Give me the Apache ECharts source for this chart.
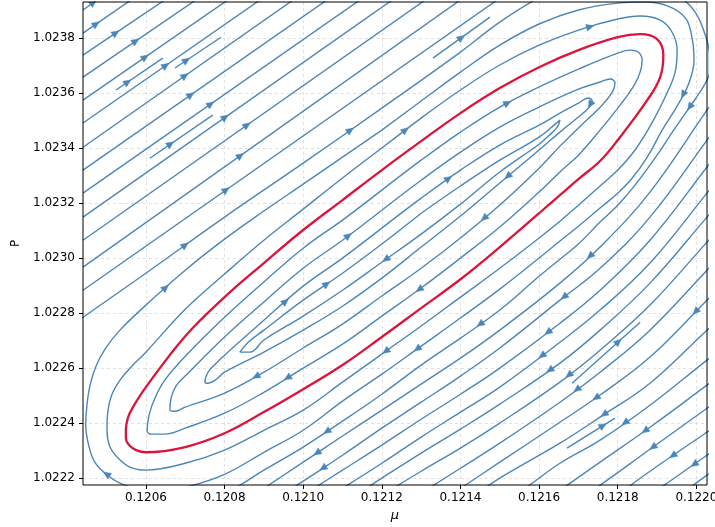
<!DOCTYPE html>
<html><head><meta charset="utf-8">
<script src="https://cdn.jsdelivr.net/npm/echarts@6/dist/echarts.min.js"></script>
<style>html,body{margin:0;padding:0;background:#fff}#c{width:715px;height:527px}</style>
</head><body><div id="c"></div>
<script>
// ---- axis ranges and ticks ----
const xRange = [0.12044, 0.122027];
const yRange = [1.022174, 1.02393];
const xTicks = [0.1206, 0.1208, 0.1210, 0.1212, 0.1214, 0.1216, 0.1218, 0.1220];
const yTicks = [1.0222, 1.0224, 1.0226, 1.0228, 1.0230, 1.0232, 1.0234, 1.0236, 1.0238];

// ---- limit cycle (red closed orbit) ----
const limitCycle = [[0.120549,1.022373],[0.120554,1.022417],[0.120567,1.022457],[0.1206,1.022530],[0.1207,1.022715],[0.1208,1.022857],[0.1209,1.022981],[0.1210,1.023101],[0.1211,1.023210],[0.1212,1.023319],[0.1213,1.023424],[0.1214,1.023526],[0.1215,1.023617],[0.1216,1.023693],[0.1217,1.023755],[0.1218,1.023802],[0.121857,1.023813],[0.1219,1.023795],[0.121916,1.023737],[0.121908,1.023657],[0.121875,1.023573],[0.1218,1.023428],[0.121755,1.023352],[0.1217,1.023286],[0.121653,1.023228],[0.1216,1.023162],[0.1215,1.023039],[0.1214,1.022922],[0.1213,1.022817],[0.1212,1.022712],[0.1211,1.022610],[0.1210,1.022522],[0.1209,1.022439],[0.1208,1.022362],[0.1207,1.022312],[0.1206,1.022293],[0.120575,1.022301],[0.120557,1.022319],[0.120549,1.022344],[0.120549,1.022373]];

// ---- streamlines outside the cycle ----
const outer1 = [[0.120501,1.022373],[0.120503,1.022439],[0.120513,1.022501],[0.120534,1.022555],[0.120564,1.022606],[0.1206,1.022657],[0.1207,1.022813],[0.1208,1.022941],[0.1209,1.023064],[0.1210,1.023177],[0.1211,1.023290],[0.1212,1.023399],[0.1213,1.023508],[0.1214,1.023610],[0.1215,1.023701],[0.1216,1.023773],[0.1217,1.023828],[0.1218,1.023868],[0.121857,1.023879],[0.121908,1.023864],[0.121938,1.023821],[0.121951,1.023755],[0.121946,1.023675],[0.121923,1.023592],[0.121888,1.023493],[0.121844,1.023392],[0.1218,1.023319],[0.121755,1.023261],[0.1217,1.023191],[0.121653,1.023133],[0.1216,1.023072],[0.1215,1.022962],[0.1214,1.022857],[0.1213,1.022752],[0.1212,1.022650],[0.1211,1.022548],[0.1210,1.022446],[0.1209,1.022373],[0.1208,1.022301],[0.1207,1.022253],[0.1206,1.022228],[0.120559,1.022239],[0.120529,1.022272],[0.120508,1.022315],[0.120501,1.022373]];
const outer2 = [[0.120447,1.022392],[0.12045,1.022464],[0.120458,1.022537],[0.120473,1.022606],[0.120496,1.022668],[0.120534,1.022737],[0.1206,1.022828],[0.1207,1.022955],[0.1208,1.023068],[0.1209,1.023170],[0.1210,1.023268],[0.1211,1.023366],[0.1212,1.023464],[0.1213,1.023570],[0.1214,1.023675],[0.1215,1.023773],[0.1216,1.023850],[0.1217,1.023901],[0.1218,1.023926],[0.12187,1.023930],[0.121928,1.023915],[0.121972,1.023872],[0.121989,1.023799],[0.121994,1.023719],[0.121979,1.023628],[0.121954,1.023559],[0.121913,1.023464],[0.121875,1.023366],[0.121837,1.023290],[0.1218,1.023235],[0.121755,1.023181],[0.1217,1.023115],[0.121653,1.023061],[0.1216,1.022999],[0.1215,1.022886],[0.1214,1.022781],[0.1213,1.022679],[0.1212,1.022577],[0.1211,1.022479],[0.1210,1.022373],[0.1209,1.022293],[0.1208,1.022213],[0.1207,1.022166],[0.120636,1.022155],[0.120585,1.022159],[0.120534,1.022181],[0.120496,1.022217],[0.12047,1.022257],[0.120455,1.022315],[0.120447,1.022392]];
const outer3 = [[0.120407,1.022752],[0.12044,1.022784],[0.1206,1.022944],[0.1208,1.023148],[0.1210,1.023344],[0.1212,1.023544],[0.1214,1.023748],[0.1215,1.023857],[0.121603,1.023948],[0.121704,1.024010],[0.121832,1.024039],[0.121908,1.024002],[0.121964,1.023944],[0.121997,1.023893],[0.12202,1.023821],[0.122033,1.023737],[0.122033,1.023675],[0.12202,1.023628],[0.121999,1.023581],[0.121946,1.023472],[0.1219,1.023373],[0.121844,1.023264],[0.1218,1.023191],[0.121755,1.023130],[0.1217,1.023050],[0.121653,1.022995],[0.1216,1.022933],[0.1215,1.022810],[0.1214,1.022708],[0.1213,1.022610],[0.1212,1.022504],[0.1211,1.022406],[0.1210,1.022312],[0.1209,1.022228],[0.120839,1.022173],[0.120788,1.022130]];
const outerU4 = [[0.12044,1.022882],[0.121511,1.023955]];
const outerU5 = [[0.12044,1.022966],[0.121417,1.023955]];
const outerU6 = [[0.12044,1.023064],[0.121328,1.023955]];
const outerU7 = [[0.12044,1.023148],[0.121244,1.023955]];
const outerU8 = [[0.12044,1.023235],[0.121162,1.023955]];
const outerU9 = [[0.12044,1.023319],[0.121078,1.023955]];
const outerU10 = [[0.12044,1.023402],[0.120992,1.023955]];
const outerU11 = [[0.12044,1.023490],[0.120908,1.023955]];
const outerU12 = [[0.12044,1.023573],[0.120826,1.023955]];
const outerU13 = [[0.12044,1.023657],[0.120745,1.023955]];
const outerU14 = [[0.12044,1.023737],[0.120666,1.023955]];
const outerU15 = [[0.12044,1.023817],[0.12058,1.023955]];
const outerU16 = [[0.12044,1.023901],[0.120493,1.023955]];
const outerL4 = [[0.122048,1.023577],[0.122027,1.023537],[0.121882,1.023239],[0.121755,1.023039],[0.121653,1.022908],[0.1215,1.022737],[0.1214,1.022635],[0.1213,1.022541],[0.1212,1.022446],[0.1211,1.022352],[0.1210,1.022257],[0.1209,1.022162],[0.120872,1.022137]];
const outerL5 = [[0.122048,1.023472],[0.122027,1.023428],[0.121882,1.023148],[0.121755,1.022962],[0.121653,1.022846],[0.1215,1.022672],[0.1214,1.022570],[0.1213,1.022475],[0.1212,1.022381],[0.1211,1.022282],[0.1210,1.022188],[0.120946,1.022137]];
const outerL6 = [[0.122048,1.023370],[0.122027,1.023330],[0.121882,1.023064],[0.121755,1.022882],[0.121653,1.022762],[0.1215,1.022599],[0.1214,1.022504],[0.1213,1.022413],[0.1212,1.022319],[0.1211,1.022228],[0.1210,1.022137]];
const outerL7 = [[0.122048,1.023272],[0.122027,1.023235],[0.121882,1.022981],[0.121755,1.022810],[0.121653,1.022693],[0.1215,1.022530],[0.1214,1.022439],[0.1213,1.022348],[0.1212,1.022253],[0.1211,1.022162],[0.121071,1.022137]];
const outerL8 = [[0.122048,1.023181],[0.122027,1.023148],[0.121882,1.022908],[0.121755,1.022737],[0.121653,1.022617],[0.1215,1.022468],[0.1214,1.022377],[0.1213,1.022290],[0.1212,1.022199],[0.121134,1.022137]];
const outerL9 = [[0.122048,1.023090],[0.122027,1.023057],[0.121882,1.022828],[0.121755,1.022664],[0.121653,1.022548],[0.1215,1.022399],[0.1214,1.022308],[0.1213,1.022224],[0.1212,1.022137]];
const outerL10 = [[0.122048,1.022988],[0.122027,1.022955],[0.121882,1.022737],[0.121755,1.022584],[0.121653,1.022475],[0.1215,1.022326],[0.1214,1.022235],[0.121292,1.022137]];
const outerL11 = [[0.122048,1.022875],[0.122027,1.022846],[0.121882,1.022639],[0.121755,1.022501],[0.121653,1.022402],[0.1215,1.022257],[0.121412,1.022173],[0.121374,1.022137]];
const outerL12 = [[0.122048,1.022762],[0.122027,1.022737],[0.121882,1.022544],[0.121755,1.022421],[0.121653,1.022326],[0.1215,1.022199],[0.121437,1.022137]];
const outerL13 = [[0.122048,1.022650],[0.122027,1.022628],[0.121882,1.022464],[0.121755,1.022337],[0.121653,1.022253],[0.121575,1.022173],[0.121536,1.022137]];
const outerL14 = [[0.122048,1.022559],[0.122027,1.022537],[0.121882,1.022384],[0.121755,1.022257],[0.121664,1.022166],[0.121633,1.022137]];
const outerL15 = [[0.122048,1.022475],[0.122027,1.022453],[0.121882,1.022304],[0.121748,1.022166],[0.121717,1.022137]];
const outerL16 = [[0.122048,1.022384],[0.122027,1.022366],[0.121882,1.022224],[0.121806,1.022144]];
const outerL17 = [[0.122048,1.022301],[0.122027,1.022282],[0.121918,1.022173],[0.121882,1.022137]];
const outerL18 = [[0.122048,1.022228],[0.122027,1.022210],[0.121992,1.022173],[0.121959,1.022137]];

// ---- streamlines inside the cycle ----
const inner1 = [[0.120603,1.022370],[0.120608,1.022428],[0.120623,1.022490],[0.120648,1.022555],[0.1207,1.022642],[0.1208,1.022784],[0.1209,1.022912],[0.1210,1.023035],[0.1211,1.023137],[0.1212,1.023246],[0.1213,1.023355],[0.1214,1.023457],[0.1215,1.023548],[0.1216,1.023621],[0.1217,1.023686],[0.1218,1.023744],[0.121832,1.023755],[0.121852,1.023748],[0.121862,1.023719],[0.121857,1.023675],[0.121842,1.023628],[0.121806,1.023555],[0.121755,1.023464],[0.1217,1.023373],[0.121653,1.023312],[0.1216,1.023239],[0.1215,1.023112],[0.1214,1.022999],[0.1213,1.022890],[0.1212,1.022788],[0.1211,1.022686],[0.1210,1.022599],[0.1209,1.022511],[0.1208,1.022435],[0.1207,1.022381],[0.120648,1.022359],[0.120615,1.022359],[0.120603,1.022370]];
const inner2 = [[0.120661,1.022446],[0.120664,1.022490],[0.120676,1.022533],[0.1207,1.022570],[0.1208,1.022712],[0.1209,1.022839],[0.1210,1.022962],[0.1211,1.023064],[0.1212,1.023173],[0.1213,1.023282],[0.1214,1.023384],[0.1215,1.023475],[0.1216,1.023548],[0.1217,1.023613],[0.121755,1.023639],[0.121781,1.023650],[0.121793,1.023635],[0.121786,1.023602],[0.12176,1.023555],[0.1217,1.023472],[0.121653,1.023406],[0.1216,1.023326],[0.1215,1.023192],[0.1214,1.023072],[0.1213,1.022962],[0.1212,1.022861],[0.1211,1.022759],[0.1210,1.022672],[0.1209,1.022584],[0.1208,1.022508],[0.1207,1.022457],[0.120674,1.022442],[0.120661,1.022446]];
const inner3 = [[0.12075,1.022548],[0.120758,1.022584],[0.120776,1.022613],[0.1208,1.022646],[0.1209,1.022773],[0.1210,1.022897],[0.1211,1.022999],[0.1212,1.023108],[0.1213,1.023217],[0.1214,1.023319],[0.1215,1.023410],[0.1216,1.023482],[0.121653,1.023526],[0.1217,1.023562],[0.121725,1.023581],[0.121735,1.023570],[0.121725,1.023544],[0.1217,1.023512],[0.121653,1.023457],[0.1216,1.023392],[0.1215,1.023272],[0.1214,1.023152],[0.1213,1.023039],[0.1212,1.022926],[0.1211,1.022824],[0.1210,1.022737],[0.1209,1.022657],[0.1208,1.022584],[0.120776,1.022555],[0.120758,1.022544],[0.12075,1.022548]];
const inner4 = [[0.120839,1.022657],[0.12086,1.022693],[0.1209,1.022737],[0.1210,1.022846],[0.1211,1.022944],[0.1212,1.023050],[0.1213,1.023162],[0.1214,1.023261],[0.1215,1.023355],[0.1216,1.023439],[0.121641,1.023486],[0.121653,1.023501],[0.121646,1.023475],[0.121623,1.023442],[0.1216,1.023413],[0.1215,1.023312],[0.1214,1.023195],[0.1213,1.023086],[0.1212,1.022984],[0.1211,1.022882],[0.1210,1.022788],[0.1209,1.022701],[0.120865,1.022657],[0.120839,1.022657]];

// ---- short streamline pieces ----
const piece1 = [[0.120524,1.023610],[0.120643,1.023726]];
const piece2 = [[0.120674,1.023690],[0.120791,1.023802]];
const piece3 = [[0.12061,1.023362],[0.12077,1.023519]];
const piece5 = [[0.12133,1.023726],[0.121475,1.023875]];
const piece7 = [[0.121684,1.022544],[0.121857,1.022766]];
const piece9 = [[0.121671,1.022308],[0.121793,1.022417]];

const streamlines = {outer1, outer2, outer3,
  outerU4, outerU5, outerU6, outerU7, outerU8, outerU9, outerU10, outerU11, outerU12, outerU13, outerU14, outerU15, outerU16,
  outerL4, outerL5, outerL6, outerL7, outerL8, outerL9, outerL10, outerL11, outerL12, outerL13, outerL14, outerL15, outerL16, outerL17, outerL18,
  inner1, inner2, inner3, inner4, piece1, piece2, piece3, piece5, piece7, piece9};

// arrow heads: [line, segment index, fraction along segment]
const arrowMarks = [
  ['outer1',11,0.6],['outer1',16,0.3],['outer1',33,0.9],
  ['outer2',24,0.5],['outer2',36,0.1],['outer2',45,0.9],['outer2',6,0.5],
  ['outer3',2,0.5],['outer3',4,0.6],['outer3',18,0.3],['outer3',27,0.5],['outer3',31,0.4],
  ['outerU4',0,0.34],['outerU5',0,0.41],['outerU6',0,0.47],['outerU7',0,0.45],['outerU8',0,0.45],['outerU9',0,0.43],
  ['outerU10',0,0.47],['outerU11',0,0.45],['outerU12',0,0.41],['outerU13',0,0.44],['outerU14',0,0.37],['outerU15',0,0.24],['outerU16',0,0.5],
  ['outerL4',3,0.25],['outerL4',9,0.65],['outerL5',3,0.9],['outerL5',9,0.5],['outerL6',4,0.2],['outerL7',4,0.3],['outerL8',4,0.17],
  ['outerL9',3,0.78],['outerL10',3,0.58],['outerL11',3,0.1],['outerL11',1,0.2],['outerL12',2,0.92],['outerL13',2,0.5],
  ['outerL14',2,0.1],['outerL15',1,0.95],['outerL16',1,0.6],['outerL17',1,0.3],
  ['inner1',12,0.2],['inner1',28,0.05],['inner1',31,0.4],
  ['inner2',7,0.15],['inner2',28,0.2],['inner2',22,0.4],
  ['inner3',4,0.55],['inner3',8,0.7],['inner3',19,0.8],['inner3',15,0.5],
  ['inner4',3,0.6],['inner4',17,0.9],
  ['piece1',0,0.25],['piece2',0,0.25],['piece3',0,0.33],['piece5',0,0.5],['piece7',0,0.68],['piece9',0,0.75]
];

// ---- drawing ----
const STREAM = '#4b86b8';
const FONT = 'DejaVu Sans';
const chart = echarts.init(document.getElementById('c'), null, {renderer: 'canvas', width: 715, height: 527});

// closed orbits are drawn starting from a straight stretch so the smoothing has no seam at a turn
function drawOrder(pts) {
  const n = pts.length;
  const closed = pts[0][0] === pts[n - 1][0] && pts[0][1] === pts[n - 1][1];
  if (!closed) return pts;
  const k = Math.floor(n / 4);
  return pts.slice(k).concat(pts.slice(1, k + 1));
}

const series = [];
for (const name in streamlines) {
  series.push({type: 'line', name: name, data: drawOrder(streamlines[name]), smooth: 0.4, symbol: 'none', silent: true, clip: true,
    lineStyle: {color: STREAM, width: 1.4}, z: 2, animation: false});
}
series.push({type: 'line', name: 'cycle', data: drawOrder(limitCycle), smooth: 0.4, symbol: 'none', silent: true, clip: true,
  lineStyle: {color: '#dc143c', width: 2.3}, z: 5, animation: false});
const arrowData = arrowMarks.map(function (m) {
  const p = streamlines[m[0]];
  return [p[m[1]][0], p[m[1]][1], p[m[1] + 1][0], p[m[1] + 1][1], m[2]];
});
series.push({
  type: 'custom', data: arrowData, dimensions: ['x1', 'y1', 'x2', 'y2', 't'],
  encode: {x: ['x1', 'x2'], y: ['y1', 'y2']}, clip: true, silent: true, z: 3, animation: false,
  renderItem: function (params, api) {
    const a = api.coord([api.value(0), api.value(1)]);
    const b = api.coord([api.value(2), api.value(3)]);
    const t = api.value(4);
    let dx = b[0] - a[0], dy = b[1] - a[1];
    const d = Math.hypot(dx, dy) || 1; dx /= d; dy /= d;
    const cx = a[0] + (b[0] - a[0]) * t, cy = a[1] + (b[1] - a[1]) * t;
    const L = 7.5, W = 3.4;
    const tip = [cx + dx * L / 2, cy + dy * L / 2];
    const bx = cx - dx * L / 2, by = cy - dy * L / 2;
    return {type: 'polygon', shape: {points: [tip, [bx - dy * W, by + dx * W], [bx + dy * W, by - dx * W]]},
      style: {fill: STREAM, stroke: STREAM, lineWidth: 0.5}};
  }
});

const splitStyle = {show: true, lineStyle: {color: '#d9d9d9', width: 0.8, type: [3, 3]}};
chart.setOption({
  animation: false,
  backgroundColor: '#fff',
  grid: {left: 83, right: 8, top: 2, bottom: 42, outerBoundsMode: 'none', containLabel: false},
  xAxis: {
    type: 'value', min: xRange[0], max: xRange[1], splitNumber: 8, minInterval: 0.0002, maxInterval: 0.0002,
    axisLine: {show: false},
    axisTick: {show: true, customValues: xTicks, length: 4, lineStyle: {color: '#000', width: 1}},
    axisLabel: {customValues: xTicks, formatter: function (v) { return v.toFixed(4); }, color: '#000', fontSize: 12, fontFamily: FONT, margin: 7},
    splitLine: splitStyle,
    name: 'μ', nameLocation: 'middle', nameGap: 23,
    nameTextStyle: {color: '#000', fontSize: 13, fontFamily: FONT, fontStyle: 'italic'}
  },
  yAxis: {
    type: 'value', min: yRange[0], max: yRange[1], splitNumber: 8, minInterval: 0.0002, maxInterval: 0.0002,
    axisLine: {show: false},
    axisTick: {show: true, customValues: yTicks, length: 4, lineStyle: {color: '#000', width: 1}},
    axisLabel: {customValues: yTicks, formatter: function (v) { return v.toFixed(4); }, color: '#000', fontSize: 12, fontFamily: FONT, margin: 8},
    splitLine: splitStyle,
    name: 'P', nameLocation: 'middle', nameGap: 60,
    nameTextStyle: {color: '#000', fontSize: 12, fontFamily: FONT}
  },
  graphic: [{type: 'rect', shape: {x: 83, y: 2, width: 624, height: 483}, style: {fill: null, stroke: '#000', lineWidth: 1}, z: 100, silent: true}],
  series: series
});
</script>
</body></html>
